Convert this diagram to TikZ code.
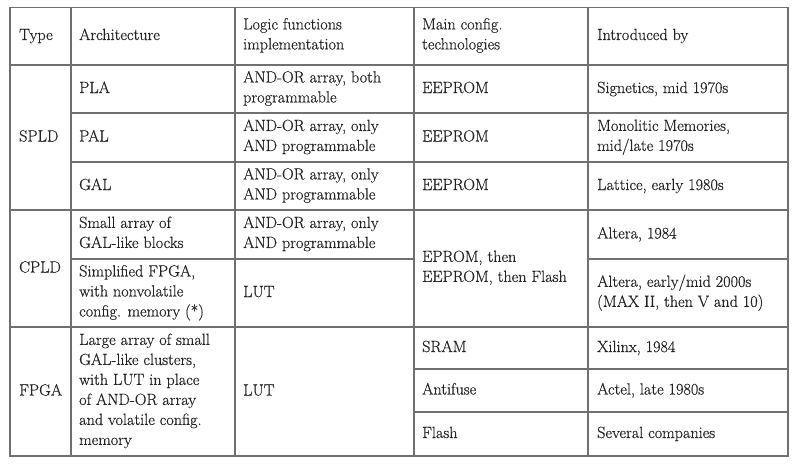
\documentclass[tikz,border=0pt]{standalone}
\usepackage{fontspec}
\setmainfont{Latin Modern Roman}[FakeBold=0.5]
\definecolor{txt}{HTML}{222222}
\definecolor{rule}{HTML}{707070}
\newcommand\mst{\rule[-4.5pt]{0pt}{17pt}}
\tikzset{
  cell/.style={anchor=west, inner sep=0pt, align=left, text=txt,
    font=\fontsize{16.2}{20}\selectfont,
    execute at begin node=\mst, execute at end node=\mst},
  grid/.style={draw=rule, line width=1.1pt}
}
\begin{document}
\begin{tikzpicture}[x=1pt,y=-1pt]
\useasboundingbox (0,0) rectangle (800,466);
% grid
\draw[grid] (10,7.5) rectangle (788,456);
\foreach \x in {71,235,414,588} \draw[grid] (\x,7.5) -- (\x,456);
\foreach \y in {65,210,327} \draw[grid] (10,\y) -- (788,\y);
\foreach \y in {113,162} \draw[grid] (71,\y) -- (788,\y);
\draw[grid] (71,259) -- (414,259);
\draw[grid] (588,259) -- (788,259);
\foreach \y in {369,412} \draw[grid] (414,\y) -- (788,\y);
% header
\node[cell] (h1) at (19,36) {Type};
\node[cell] (h2) at (79,36) {Architecture};
\node[cell] (h3) at (243,36) {Logic functions\\implementation};
\node[cell] (h4) at (422,36) {Main config.\\technologies};
\node[cell] (h5) at (597,36) {Introduced by};
% SPLD
\node[cell] (t1) at (19,137.5) {SPLD};
\node[cell] (a1) at (79,89) {PLA};
\node[cell] (l1) at (243,89) {AND-OR array, both\\programmable};
\node[cell] (c1) at (422,89) {EEPROM};
\node[cell] (i1) at (597,89) {Signetics, mid 1970s};
\node[cell] (a2) at (79,137.5) {PAL};
\node[cell] (l2) at (243,137.5) {AND-OR array, only\\AND programmable};
\node[cell] (c2) at (422,137.5) {EEPROM};
\node[cell] (i2) at (597,137.5) {Monolitic Memories,\\mid/late 1970s};
\node[cell] (a3) at (79,186) {GAL};
\node[cell] (l3) at (243,186) {AND-OR array, only\\AND programmable};
\node[cell] (c3) at (422,186) {EEPROM};
\node[cell] (i3) at (597,186) {Lattice, early 1980s};
% CPLD
\node[cell] (t2) at (19,268.5) {CPLD};
\node[cell] (a4) at (79,234.5) {Small array of\\GAL-like blocks};
\node[cell] (l4) at (243,234.5) {AND-OR array, only\\AND programmable};
\node[cell] (c4) at (422,268.5) {EPROM, then\\EEPROM, then Flash};
\node[cell] (i4) at (597,234.5) {Altera, 1984};
\node[cell] (a5) at (79,293) {Simplified FPGA,\\with nonvolatile\\config. memory (*)};
\node[cell] (l5) at (243,293) {LUT};
\node[cell] (i5) at (597,293) {Altera, early/mid 2000s\\(MAX II, then V and 10)};
% FPGA
\node[cell] (t3) at (19,391.5) {FPGA};
\node[cell] (a6) at (79,391.5) {Large array of small\\GAL-like clusters,\\with LUT in place\\of AND-OR array\\and volatile config.\\memory};
\node[cell] (l6) at (243,391.5) {LUT};
\node[cell] (c6) at (422,348) {SRAM};
\node[cell] (i6) at (597,348) {Xilinx, 1984};
\node[cell] (c7) at (422,390.5) {Antifuse};
\node[cell] (i7) at (597,390.5) {Actel, late 1980s};
\node[cell] (c8) at (422,434) {Flash};
\node[cell] (i8) at (597,434) {Several companies};
\end{tikzpicture}
\end{document}
